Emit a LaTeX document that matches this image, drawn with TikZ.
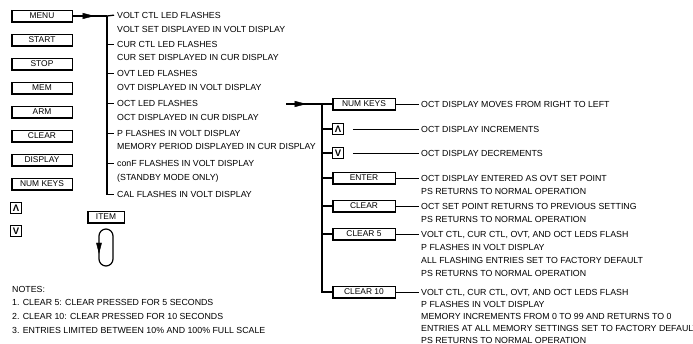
\documentclass[tikz,border=0pt]{standalone}
\usepackage{fontspec}
\setmainfont{Liberation Sans}
\usetikzlibrary{calc}
\newcommand\keyat[4]{%
  \node[keybox,minimum width=#3] (#1) at (#2) {#4};
  \draw[edge] (#1.north west) -- (#1.south west) -- (#1.south east) -- (#1.north east);}
\begin{document}
\begin{tikzpicture}[x=1pt,y=-1pt,
  txt/.style={anchor=base west,inner sep=0pt,yshift=-3.2pt,font=\fontsize{8.8}{10}\selectfont},
  keybox/.style={draw,line width=0.5pt,minimum height=11.5pt,inner sep=0pt,font=\fontsize{8.4}{10}\selectfont},
  arrbox/.style={draw,line width=1.1pt,minimum width=10.5pt,minimum height=11.5pt,inner sep=0pt,font=\bfseries\fontsize{9.5}{10}\selectfont},
  edge/.style={line width=1.2pt},
  wire/.style={line width=1.3pt},
  link/.style={line width=0.7pt},
  head/.style={fill=black,draw=black,line width=0.4pt,line join=miter}
]
\useasboundingbox (0,0) rectangle (693,344);

% left key column
\keyat{menu}{42,16}{60pt}{MENU}
\keyat{start}{42,40}{60pt}{START}
\keyat{stop}{42,64}{60pt}{STOP}
\keyat{mem}{42,88}{60pt}{MEM}
\keyat{arm}{42,112}{60pt}{ARM}
\keyat{clear}{42,136}{60pt}{CLEAR}
\keyat{display}{42,160}{60pt}{DISPLAY}
\keyat{numkeys}{42,184}{60pt}{NUM KEYS}
\node[arrbox] (up) at (16,208) {Λ};
\node[arrbox] (down) at (16,231) {V};

% ITEM loop
\keyat{item}{106,217}{36pt}{ITEM}
\draw[line width=1.2pt,rounded corners=7pt]
  (99,229) rectangle (113,266);
\coordinate (lb) at (99,253);
\filldraw[head] (lb) -- ++(-2.6,-10) -- ++(5.2,0) -- cycle;

% menu texts
\node[txt] (a1) at (117,15) {VOLT CTL LED FLASHES};
\node[txt] (a2) at (117,29) {VOLT SET DISPLAYED IN VOLT DISPLAY};
\node[txt] (b1) at (117,44) {CUR CTL LED FLASHES};
\node[txt] (b2) at (117,57) {CUR SET DISPLAYED IN CUR DISPLAY};
\node[txt] (c1) at (117,73) {OVT LED FLASHES};
\node[txt] (c2) at (117,87) {OVT DISPLAYED IN VOLT DISPLAY};
\node[txt] (d1) at (117,103) {OCT LED FLASHES};
\node[txt] (d2) at (117,117) {OCT DISPLAYED IN CUR DISPLAY};
\node[txt] (e1) at (117,133) {P FLASHES IN VOLT DISPLAY};
\node[txt] (e2) at (117,146) {MEMORY PERIOD DISPLAYED IN CUR DISPLAY};
\node[txt] (f1) at (117,163) {conF FLASHES IN VOLT DISPLAY};
\node[txt] (f2) at (117,177) {(STANDBY MODE ONLY)};
\node[txt] (g1) at (117,194) {CAL FLASHES IN VOLT DISPLAY};

\coordinate (vtop) at (107,16);
\draw[wire] (menu.east) -- (vtop);
\coordinate (ah1) at ($(menu.east)!0.62!(vtop)$);
\filldraw[head] (ah1) -- ++(-11,-2.8) -- ++(0,5.6) -- cycle;
\draw[wire] (vtop) -- ([xshift=-3pt]a1.west);
\draw[wire] (vtop) -- (g1.west -| vtop) -- ([xshift=-3pt]g1.west);
\foreach \n in {b1,c1,d1,e1,f1}
  \draw[wire] (\n.west -| vtop) -- ([xshift=-3pt]\n.west);

% OCT sub-menu
\coordinate (ra) at (286,104);
\coordinate (rv) at (322,104);
\draw[wire] (ra) -- (rv);
\coordinate (ah2) at ($(ra)!0.55!(rv)$);
\filldraw[head] (ah2) -- ++(-11,-2.8) -- ++(0,5.6) -- cycle;

\keyat{nk}{364,104}{62pt}{NUM KEYS}
\node[arrbox] (up2) at (338,129) {Λ};
\node[arrbox] (dn2) at (338,153) {V};
\keyat{enter}{364,178}{62pt}{ENTER}
\keyat{clr}{364,206}{62pt}{CLEAR}
\keyat{clr5}{364,234}{62pt}{CLEAR 5}
\keyat{clr10}{364,292}{62pt}{CLEAR 10}

\draw[wire] (rv) -- (nk.west);
\draw[wire] (rv) -- (clr10.west -| rv) -- (clr10.west);
\foreach \n in {up2,dn2,enter,clr,clr5}
  \draw[wire] (\n.west -| rv) -- (\n.west);

\node[txt] (r1) at (421,104) {OCT DISPLAY MOVES FROM RIGHT TO LEFT};
\node[txt] (r2) at (421,129) {OCT DISPLAY INCREMENTS};
\node[txt] (r3) at (421,153) {OCT DISPLAY DECREMENTS};
\node[txt] (r4) at (421,178) {OCT DISPLAY ENTERED AS OVT SET POINT};
\node[txt] (r4b) at (421,191) {PS RETURNS TO NORMAL OPERATION};
\node[txt] (r5) at (421,206) {OCT SET POINT RETURNS TO PREVIOUS SETTING};
\node[txt] (r5b) at (421,219) {PS RETURNS TO NORMAL OPERATION};
\node[txt] (r6) at (421,234) {VOLT CTL, CUR CTL, OVT, AND OCT LEDS FLASH};
\node[txt] (r6b) at (421,247) {P FLASHES IN VOLT DISPLAY};
\node[txt] (r6c) at (421,260) {ALL FLASHING ENTRIES SET TO FACTORY DEFAULT};
\node[txt] (r6d) at (421,273) {PS RETURNS TO NORMAL OPERATION};
\node[txt] (r7) at (421,292) {VOLT CTL, CUR CTL, OVT, AND OCT LEDS FLASH};
\node[txt] (r7b) at (421,304) {P FLASHES IN VOLT DISPLAY};
\node[txt] (r7c) at (421,316) {MEMORY INCREMENTS FROM 0 TO 99 AND RETURNS TO 0};
\node[txt] (r7d) at (421,328) {ENTRIES AT ALL MEMORY SETTINGS SET TO FACTORY DEFAULT};
\node[txt] (r7e) at (421,340) {PS RETURNS TO NORMAL OPERATION};

\draw[link] (nk.east) -- ([xshift=-2pt]nk.east -| r1.west);
\draw[link] ([xshift=9pt]up2.east) -- ([xshift=-2pt]up2.east -| r2.west);
\draw[link] ([xshift=9pt]dn2.east) -- ([xshift=-2pt]dn2.east -| r3.west);
\foreach \b/\t in {enter/r4,clr/r5,clr5/r6,clr10/r7}
  \draw[link] (\b.east) -- ([xshift=-2pt]\b.east -| \t.west);

% notes
\node[txt] (n0) at (12,289) {NOTES:};
\node[txt] (n1) at (12,302) {1. CLEAR 5: CLEAR PRESSED FOR 5 SECONDS};
\node[txt] (n2) at (12,316) {2. CLEAR 10: CLEAR PRESSED FOR 10 SECONDS};
\node[txt] (n3) at (12,330) {3. ENTRIES LIMITED BETWEEN 10\% AND 100\% FULL SCALE};
\end{tikzpicture}
\end{document}
